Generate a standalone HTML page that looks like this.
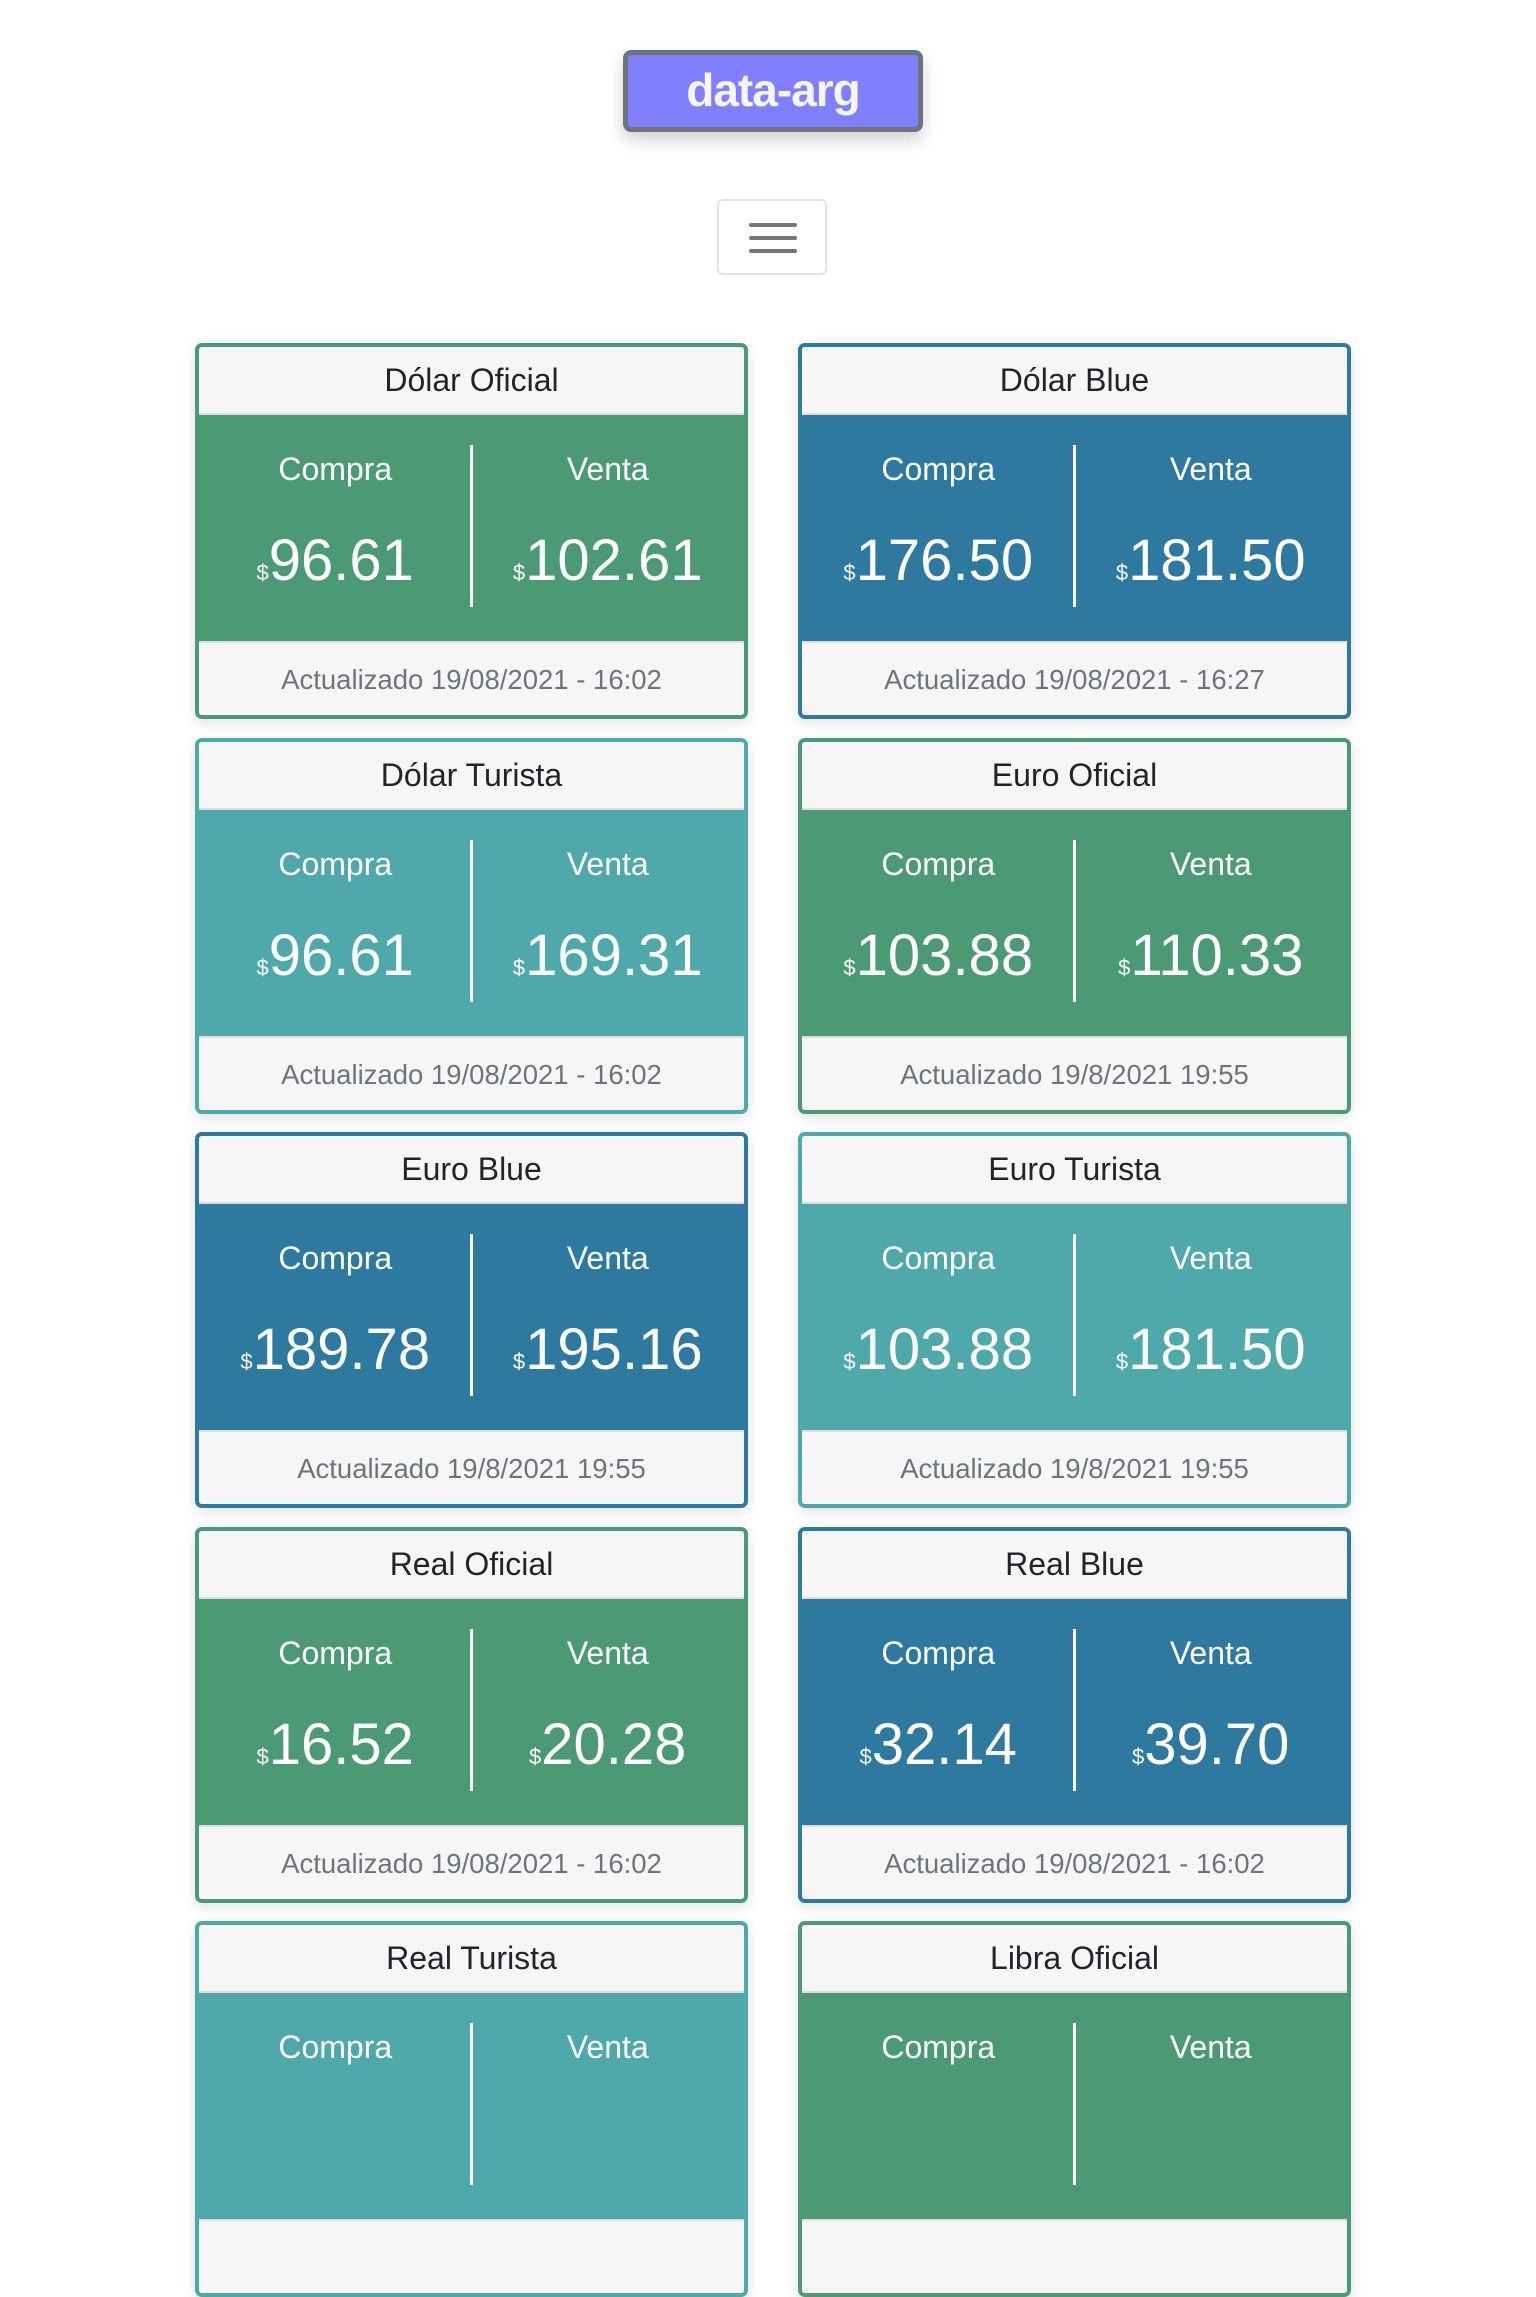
<!DOCTYPE html>
<html><head><meta charset="utf-8">
<style>
html,body{margin:0;padding:0;background:#fff;width:1536px;height:2048px;overflow:hidden;font-family:"Liberation Sans",sans-serif;}
.logo{position:absolute;left:623px;top:50px;width:290px;height:72px;background:#8080ff;border:5px solid #6c757d;border-radius:8px;box-shadow:0 8px 16px rgba(0,0,0,.18);color:#f5f6fa;font-weight:bold;font-size:46px;text-align:center;line-height:70px;letter-spacing:-1px;}
.menu{position:absolute;left:717px;top:199px;width:110px;height:76px;border:2px solid #e3e3e3;border-radius:6px;box-sizing:border-box;}
.menu i{position:absolute;left:30px;width:48px;height:4px;background:#777;border-radius:2px;}
.card{position:absolute;width:553px;height:376px;box-sizing:border-box;border:4px solid;border-radius:7px;overflow:hidden;box-shadow:0 4px 14px rgba(0,0,0,.12);}
.hd{height:66px;background:#f6f6f6;border-bottom:2px solid #ddd;text-align:center;line-height:66px;font-size:32px;color:#212529;}
.bd{position:relative;height:226px;}
.half{position:absolute;top:0;width:50%;height:100%;text-align:center;color:#fff;}
.half .lb{position:absolute;top:36px;width:100%;font-size:32px;}
.half .v{position:absolute;top:112px;width:100%;font-size:58px;}
.half .v small{font-size:22px;}
.dv{position:absolute;left:50%;margin-left:-2px;top:30px;width:3px;height:162px;background:#fff;}
.ft{height:76px;background:#f6f6f6;border-top:2px solid #ddd;text-align:center;line-height:74px;font-size:27.5px;color:#6c757d;}
.g{border-color:#4c9a75}.g .bd{background:#4c9a75}
.b{border-color:#2e79a0}.b .bd{background:#2e79a0}
.t{border-color:#4fa8a9}.t .bd{background:#4fa8a9}
</style></head><body>
<div class="logo">data-arg</div>
<div class="menu"><i style="top:22px"></i><i style="top:35px"></i><i style="top:48px"></i></div>
<div id="cards"></div>
<script>
const titles=["Dólar Oficial","Dólar Blue","Dólar Turista","Euro Oficial","Euro Blue","Euro Turista","Real Oficial","Real Blue","Real Turista","Libra Oficial"];
const compra=["96.61","176.50","96.61","103.88","189.78","103.88","16.52","32.14","",""];
const venta=["102.61","181.50","169.31","110.33","195.16","181.50","20.28","39.70","",""];
const updated=["Actualizado 19/08/2021 - 16:02","Actualizado 19/08/2021 - 16:27","Actualizado 19/08/2021 - 16:02","Actualizado 19/8/2021 19:55","Actualizado 19/8/2021 19:55","Actualizado 19/8/2021 19:55","Actualizado 19/08/2021 - 16:02","Actualizado 19/08/2021 - 16:02","",""];
const themes=["g","b","t","g","b","t","g","b","t","g"];
const root=document.getElementById('cards');
titles.forEach((t,i)=>{
  const c=document.createElement('div');
  
  
  c.className='card '+themes[i];
  c.style.left=(i%2?798:195)+'px';
  c.style.top=Math.round(343+Math.floor(i/2)*394.5)+'px';
  c.innerHTML='<div class="hd">'+t+'</div>'+
   '<div class="bd">'+
   '<div class="half" style="left:0"><div class="lb">Compra</div><div class="v">'+(compra[i]?'<small>$</small>'+compra[i]:'')+'</div></div>'+
   '<div class="dv"></div>'+
   '<div class="half" style="left:50%"><div class="lb">Venta</div><div class="v">'+(venta[i]?'<small>$</small>'+venta[i]:'')+'</div></div></div>'+
   '<div class="ft">'+updated[i]+'</div>';
  root.appendChild(c);
});
</script>
</body></html>
